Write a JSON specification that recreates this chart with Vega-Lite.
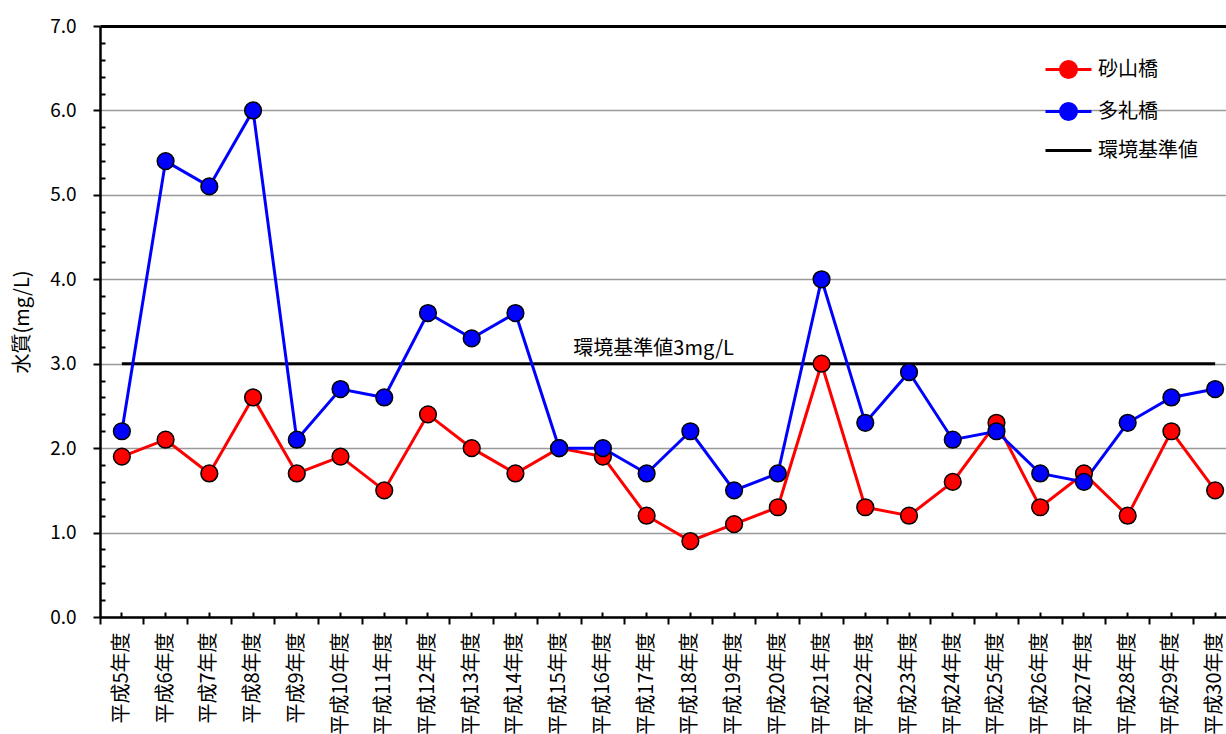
{
  "$schema": "https://vega.github.io/schema/vega-lite/v6.json",
  "autosize": "none",
  "width": 1126,
  "height": 591,
  "padding": {"left": 100, "top": 26, "right": 0, "bottom": 117},
  "background": "white",
  "config": {
    "view": {"stroke": null},
    "font": "Noto Sans CJK JP"
  },
  "datasets": {
    "main": [
      {"year": "平成5年度", "series": "砂山橋", "value": 1.9},
      {"year": "平成6年度", "series": "砂山橋", "value": 2.1},
      {"year": "平成7年度", "series": "砂山橋", "value": 1.7},
      {"year": "平成8年度", "series": "砂山橋", "value": 2.6},
      {"year": "平成9年度", "series": "砂山橋", "value": 1.7},
      {"year": "平成10年度", "series": "砂山橋", "value": 1.9},
      {"year": "平成11年度", "series": "砂山橋", "value": 1.5},
      {"year": "平成12年度", "series": "砂山橋", "value": 2.4},
      {"year": "平成13年度", "series": "砂山橋", "value": 2.0},
      {"year": "平成14年度", "series": "砂山橋", "value": 1.7},
      {"year": "平成15年度", "series": "砂山橋", "value": 2.0},
      {"year": "平成16年度", "series": "砂山橋", "value": 1.9},
      {"year": "平成17年度", "series": "砂山橋", "value": 1.2},
      {"year": "平成18年度", "series": "砂山橋", "value": 0.9},
      {"year": "平成19年度", "series": "砂山橋", "value": 1.1},
      {"year": "平成20年度", "series": "砂山橋", "value": 1.3},
      {"year": "平成21年度", "series": "砂山橋", "value": 3.0},
      {"year": "平成22年度", "series": "砂山橋", "value": 1.3},
      {"year": "平成23年度", "series": "砂山橋", "value": 1.2},
      {"year": "平成24年度", "series": "砂山橋", "value": 1.6},
      {"year": "平成25年度", "series": "砂山橋", "value": 2.3},
      {"year": "平成26年度", "series": "砂山橋", "value": 1.3},
      {"year": "平成27年度", "series": "砂山橋", "value": 1.7},
      {"year": "平成28年度", "series": "砂山橋", "value": 1.2},
      {"year": "平成29年度", "series": "砂山橋", "value": 2.2},
      {"year": "平成30年度", "series": "砂山橋", "value": 1.5},
      {"year": "平成5年度", "series": "多礼橋", "value": 2.2},
      {"year": "平成6年度", "series": "多礼橋", "value": 5.4},
      {"year": "平成7年度", "series": "多礼橋", "value": 5.1},
      {"year": "平成8年度", "series": "多礼橋", "value": 6.0},
      {"year": "平成9年度", "series": "多礼橋", "value": 2.1},
      {"year": "平成10年度", "series": "多礼橋", "value": 2.7},
      {"year": "平成11年度", "series": "多礼橋", "value": 2.6},
      {"year": "平成12年度", "series": "多礼橋", "value": 3.6},
      {"year": "平成13年度", "series": "多礼橋", "value": 3.3},
      {"year": "平成14年度", "series": "多礼橋", "value": 3.6},
      {"year": "平成15年度", "series": "多礼橋", "value": 2.0},
      {"year": "平成16年度", "series": "多礼橋", "value": 2.0},
      {"year": "平成17年度", "series": "多礼橋", "value": 1.7},
      {"year": "平成18年度", "series": "多礼橋", "value": 2.2},
      {"year": "平成19年度", "series": "多礼橋", "value": 1.5},
      {"year": "平成20年度", "series": "多礼橋", "value": 1.7},
      {"year": "平成21年度", "series": "多礼橋", "value": 4.0},
      {"year": "平成22年度", "series": "多礼橋", "value": 2.3},
      {"year": "平成23年度", "series": "多礼橋", "value": 2.9},
      {"year": "平成24年度", "series": "多礼橋", "value": 2.1},
      {"year": "平成25年度", "series": "多礼橋", "value": 2.2},
      {"year": "平成26年度", "series": "多礼橋", "value": 1.7},
      {"year": "平成27年度", "series": "多礼橋", "value": 1.6},
      {"year": "平成28年度", "series": "多礼橋", "value": 2.3},
      {"year": "平成29年度", "series": "多礼橋", "value": 2.6},
      {"year": "平成30年度", "series": "多礼橋", "value": 2.7}
    ],
    "standard": [
      {"start": "平成5年度", "end": "平成30年度", "label_year": "平成17年度", "value": 3, "series": "環境基準値", "label": "環境基準値3mg/L"}
    ]
  },
  "resolve": {"axis": {"x": "independent"}},
  "layer": [
    {
      "data": {"name": "standard"},
      "mark": {"type": "rule", "strokeWidth": 3},
      "encoding": {
        "x": {"field": "start", "type": "nominal", "axis": null},
        "x2": {"field": "end"},
        "y": {"field": "value", "type": "quantitative"},
        "color": {"field": "series", "type": "nominal"}
      }
    },
    {
      "data": {"name": "standard"},
      "mark": {"type": "text", "fontSize": 20, "dy": -15, "dx": 7, "color": "black"},
      "encoding": {
        "x": {
          "field": "label_year", "type": "nominal",
          "axis": {
            "orient": "top",
            "offset": -591,
            "labels": false,
            "domain": false,
            "title": null,
            "grid": false,
            "tickSize": 5,
            "tickWidth": 2,
            "tickColor": "black",
            "bandPosition": 0.5
          }
        },
        "y": {"field": "value", "type": "quantitative"},
        "text": {"field": "label"}
      }
    },
    {
      "data": {"name": "main"},
      "mark": {"type": "line", "strokeWidth": 3},
      "encoding": {
        "x": {
          "field": "year", "type": "nominal",
          "scale": {
            "domain": ["平成5年度","平成6年度","平成7年度","平成8年度","平成9年度","平成10年度","平成11年度","平成12年度","平成13年度","平成14年度","平成15年度","平成16年度","平成17年度","平成18年度","平成19年度","平成20年度","平成21年度","平成22年度","平成23年度","平成24年度","平成25年度","平成26年度","平成27年度","平成28年度","平成29年度","平成30年度"],
            "range": [0, 1137],
            "paddingInner": 0, "paddingOuter": 0
          },
          "axis": {
            "title": null,
            "labelAngle": -90,
            "labelFontSize": 20,
            "labelColor": "black",
            "labelPadding": 8,
            "labelOverlap": false,
            "bandPosition": 0,
            "tickSize": 7,
            "tickWidth": 2,
            "tickColor": "black",
            "domainColor": "black",
            "domainWidth": 2.5,
            "grid": false
          }
        },
        "y": {
          "field": "value", "type": "quantitative",
          "scale": {"domain": [0, 7], "nice": false, "zero": true},
          "axis": {
            "title": "水質(mg/L)",
            "titleFontSize": 20,
            "titleFontWeight": "normal",
            "titleColor": "black",
            "titlePadding": 17,
            "tickCount": 40,
            "values": [0,0.2,0.4,0.6,0.8,1,1.2,1.4,1.6,1.8,2,2.2,2.4,2.6,2.8,3,3.2,3.4,3.6,3.8,4,4.2,4.4,4.6,4.8,5,5.2,5.4,5.6,5.8,6,6.2,6.4,6.6,6.8,7],
            "labelExpr": "datum.value % 1 === 0 ? format(datum.value, '.1f') : ''",
            "labelOverlap": false,
            "labelFontSize": 19,
            "labelColor": "black",
            "labelPadding": 17,
            "tickSize": {"condition": {"test": "datum.value % 1 === 0", "value": 7}, "value": -5},
            "tickWidth": 2,
            "tickColor": "black",
            "domainColor": "black",
            "domainWidth": 2.5,
            "grid": true,
            "gridColor": {"condition": {"test": "datum.value === 7", "value": "black"}, "value": "#999999"},
            "gridWidth": {"condition": {"test": "datum.value === 7", "value": 3}, "value": 1.3},
            "gridOpacity": {"condition": {"test": "datum.value % 1 === 0", "value": 1}, "value": 0}
          }
        },
        "color": {
          "field": "series", "type": "nominal",
          "scale": {"domain": ["砂山橋", "多礼橋", "環境基準値"], "range": ["#ff0000", "#0000ff", "#000000"]},
          "legend": {
            "title": null,
            "orient": "none",
            "legendX": 957,
            "legendY": 32,
            "symbolSize": 400,
            "labelOffset": 18,
            "rowPadding": 13,
            "labelFontSize": 20,
            "labelColor": "black",
            "encode": {
              "symbols": {
                "update": {
                  "shape": {"signal": "datum.value === '環境基準値' ? 'M -2.3 0 L 2.3 0' : 'M -2.3 0 L -0.8 0 M 0.8 0 L 2.3 0 M -0.8 0 A 0.8 0.8 0 1 0 0.8 0 A 0.8 0.8 0 1 0 -0.8 0 Z'"},
                  "fill": {"signal": "datum.value === '砂山橋' ? '#ff0000' : datum.value === '多礼橋' ? '#0000ff' : 'transparent'"},
                  "stroke": {"signal": "datum.value === '砂山橋' ? '#ff0000' : datum.value === '多礼橋' ? '#0000ff' : '#000000'"},
                  "strokeWidth": {"value": 3},
                  "opacity": {"value": 1}
                }
              }
            }
          }
        }
      }
    },
    {
      "data": {"name": "main"},
      "mark": {"type": "point", "filled": true, "size": 280, "stroke": "black", "strokeWidth": 1.5, "opacity": 1},
      "encoding": {
        "x": {"field": "year", "type": "nominal", "axis": null},
        "y": {"field": "value", "type": "quantitative"},
        "color": {"field": "series", "type": "nominal"}
      }
    }
  ]
}
